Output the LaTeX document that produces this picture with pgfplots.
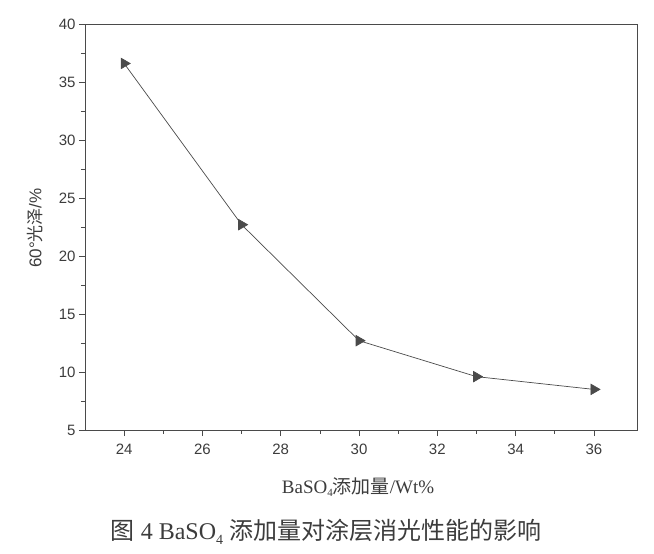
\documentclass[border=0pt]{standalone}
\usepackage{pgfplots}
\pgfplotsset{compat=1.18}
\usepackage{fontspec}
\setmainfont{Liberation Sans}
\newfontfamily\cjk{Noto Sans CJK SC}
\newfontfamily\serif{Liberation Serif}
\definecolor{ink}{HTML}{4A4A4A}
\definecolor{txt}{HTML}{3C3C3C}
\begin{document}
\begin{tikzpicture}
\begin{axis}[
  name=ax, anchor=north west, at={(0pt,0pt)},
  scale only axis, width=552pt, height=406pt,
  xmin=23, xmax=37.1, ymin=5, ymax=40,
  xtick={24,26,...,36}, ytick={5,10,...,40},
  minor x tick num=1, minor y tick num=1,
  tick align=outside, axis line style={ink, line width=0.8pt},
  every tick/.style={ink, line width=0.7pt},
  major tick length=6pt, minor tick length=4pt,
  xtick pos=bottom, ytick pos=left,
  tick label style={font=\fontsize{15}{17}\selectfont, text=txt},
  /pgf/number format/assume math mode=true,
  xticklabel style={yshift=-4pt},
  clip=false,
]
\addplot[ink, line width=0.7pt, mark=triangle*, mark size=6pt,
  mark options={rotate=-90, fill=ink, draw=ink}]
  coordinates {(24,36.6) (27,22.7) (30,12.7) (33,9.6) (36,8.5)};
\end{axis}
\path[use as bounding box] ([xshift=-85pt,yshift=24pt]ax.north west) rectangle ([xshift=569pt,yshift=-530pt]ax.north west);
\node[rotate=90, text=txt, font=\fontsize{17}{19}\selectfont] at ([xshift=-50pt,yshift=-204pt]ax.north west) {60°{\cjk 光泽}/\%};
\node[text=txt, font=\fontsize{19}{21}\selectfont] at ([xshift=273pt,yshift=-463pt]ax.north west) {{\serif BaSO\raisebox{-0.4ex}{\fontsize{11}{12}\selectfont 4}}{\cjk 添加量}{\serif /Wt\%}};
\node[text=txt, font=\fontsize{24}{26}\selectfont] at ([xshift=241pt,yshift=-508pt]ax.north west) {{\cjk 图} {\serif 4 BaSO\raisebox{-0.4ex}{\fontsize{14}{15}\selectfont 4}} {\cjk 添加量对涂层消光性能的影响}};
\end{tikzpicture}
\end{document}
